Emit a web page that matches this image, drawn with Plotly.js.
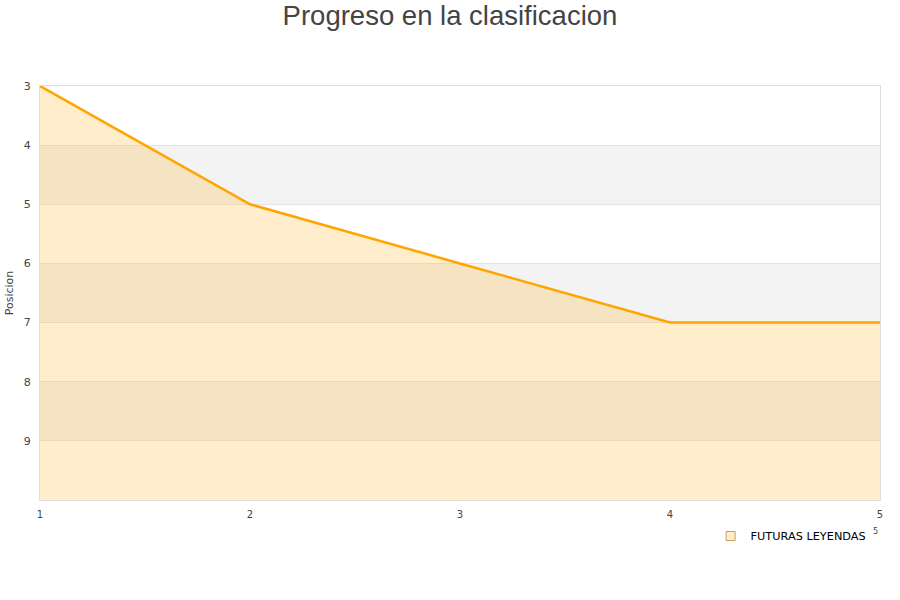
<!DOCTYPE html>
<html>
<head>
<meta charset="utf-8">
<script src="https://cdn.plot.ly/plotly-3.0.1.min.js"></script>
<style>html,body{margin:0;padding:0;background:#fff;}#chart{width:900px;height:600px;}</style>
</head>
<body>
<div id="chart"></div>
<script>
var jornadas = [1, 2, 3, 4, 5];
var posiciones = [3, 5, 6, 7, 7];
var fondo = [10, 10, 10, 10, 10];
var bandas = [[4, 5], [6, 7], [8, 9]];
var yTicks = [3, 4, 5, 6, 7, 8, 9];
var leyenda = "FUTURAS LEYENDAS";

var shapes = bandas.map(function (b) {
  return {type: 'rect', xref: 'paper', yref: 'y', x0: 0, x1: 1, y0: b[0], y1: b[1],
    fillcolor: '#f3f3f3', line: {width: 0}, layer: 'below'};
});

var data = [
  {x: jornadas, y: fondo, mode: 'lines', line: {width: 0}, showlegend: false, hoverinfo: 'skip'},
  {x: jornadas, y: posiciones, mode: 'lines', fill: 'tonexty',
    fillcolor: 'rgba(255,165,0,0.2)', line: {color: '#ffa500', width: 2.5},
    showlegend: false},
  {x: [null], y: [null], mode: 'markers', name: leyenda,
    marker: {symbol: 'square', size: 9, color: 'rgba(255,165,0,0.2)', line: {color: '#c8a060', width: 1}}}
];

var layout = {
  width: 900, height: 600,
  margin: {l: 40, r: 20, t: 86, b: 100},
  paper_bgcolor: '#fff', plot_bgcolor: 'rgba(0,0,0,0)',
  title: {text: 'Progreso en la clasificacion', x: 0.5, xanchor: 'center', y: 0.975, yanchor: 'middle',
    font: {family: 'Liberation Sans, Arial, sans-serif', size: 27.5, color: '#444'}},
  font: {family: 'DejaVu Sans, sans-serif', size: 10, color: '#444'},
  xaxis: {range: [1, 5], tickvals: jornadas, showgrid: false, zeroline: false,
    showline: true, mirror: true, linecolor: '#ddd', linewidth: 1,
    ticks: '', ticklabelstandoff: 5, tickfont: {size: 10, color: '#444'}, fixedrange: true},
  yaxis: {range: [10, 3], tickvals: yTicks, showgrid: true, gridcolor: '#e4e4e4', zeroline: false,
    showline: true, mirror: true, linecolor: '#ddd', linewidth: 1,
    ticks: '', ticklabelstandoff: 6, tickfont: {size: 11, color: '#444'},
    title: {text: 'Posicion', font: {size: 11, color: '#444'}, standoff: 7}},
  shapes: shapes,
  showlegend: true,
  legend: {orientation: 'h', x: 0.99, xanchor: 'right', y: -0.087, yanchor: 'middle',
    font: {size: 11.3, color: '#000'}, bgcolor: 'rgba(0,0,0,0)'},
  annotations: [{xref: 'paper', yref: 'paper', x: 0.995, y: -0.077, xanchor: 'center', yanchor: 'middle',
    text: '5', showarrow: false, font: {size: 8, color: '#444'}}]
};

Plotly.newPlot('chart', data, layout, {displayModeBar: false, staticPlot: true});
</script>
</body>
</html>
